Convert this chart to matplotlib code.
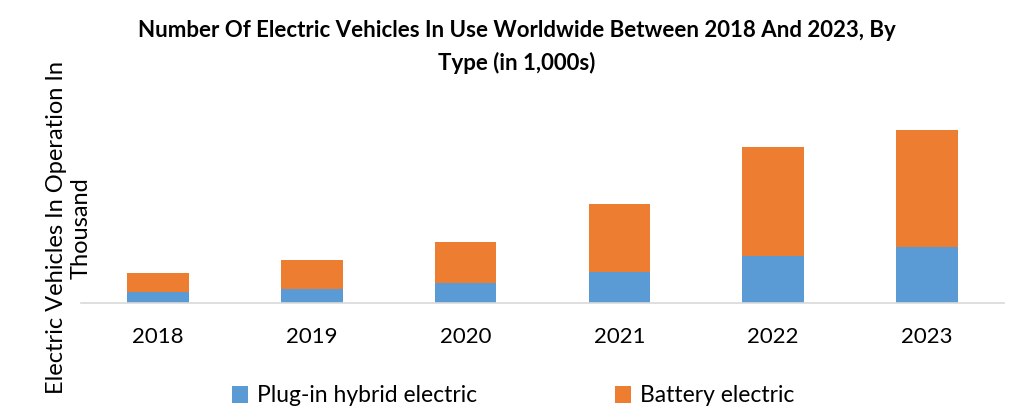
import matplotlib
matplotlib.use("Agg")
import matplotlib.pyplot as plt
import numpy as np

years = ["2018", "2019", "2020", "2021", "2022", "2023"]
plug_in_hybrid = [1130, 1400, 2030, 3100, 4730, 5630]
battery_electric = [1870, 2900, 4070, 6800, 10870, 11670]

blue = "#5b9bd5"
orange = "#ed7d31"
font = "Lato"

fig = plt.figure(figsize=(10.3, 4.2), dpi=100)
ax = fig.add_axes([81/1030, 1 - 303/420, (1004-81)/1030, 203/420])

x = np.arange(len(years))
ax.bar(x, plug_in_hybrid, width=0.40, color=blue, label="Plug-in hybrid electric")
ax.bar(x, battery_electric, width=0.40, bottom=plug_in_hybrid, color=orange, label="Battery electric")

ax.set_xlim(-0.5, len(years) - 0.5)
ax.set_ylim(0, 20300)
ax.set_xticks(x)
ax.set_xticklabels(years, fontsize=16, family=font)
ax.tick_params(axis="x", length=0, pad=17)
ax.set_yticks([])
for s in ["top", "right", "left"]:
    ax.spines[s].set_visible(False)
ax.spines["bottom"].set_color("#d9d9d9")
ax.spines["bottom"].set_linewidth(1.2)

fig.text(517/1030, 1 - 47/420, "Number Of Electric Vehicles In Use Worldwide Between 2018 And 2023, By\nType (in 1,000s)",
         ha="center", va="center", fontsize=16, fontweight="bold", family=font, linespacing=1.6)

fig.text(69/1030, 1 - 228/420, "Electric Vehicles In Operation In\nThousand", rotation=90,
         ha="center", va="center", fontsize=17, family=font, linespacing=1.2)

leg = fig.legend(loc="center", bbox_to_anchor=(513/1030, 1 - 396/420), ncol=2, frameon=False,
                 prop={"family": font, "size": 16.5}, handlelength=0.7, handleheight=0.7,
                 handletextpad=0.4, columnspacing=6)

fig.savefig("out.png", dpi=100)
